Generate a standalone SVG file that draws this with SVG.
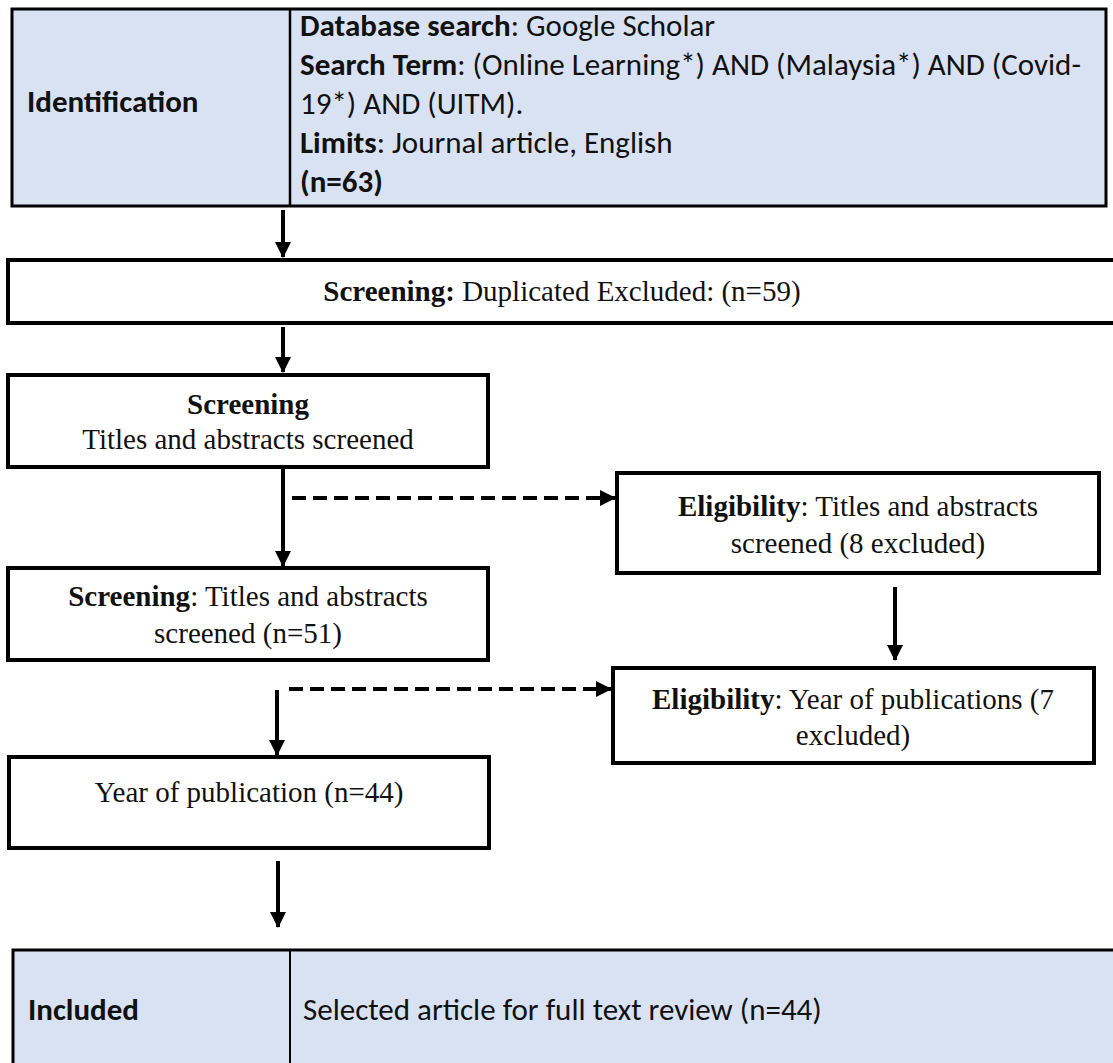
<svg xmlns="http://www.w3.org/2000/svg" width="1113" height="1063" viewBox="0 0 1113 1063">
<style>
.cal{font-family:Carlito,"Liberation Sans",sans-serif;font-size:31px;fill:#111}
.tnr{font-family:"Liberation Serif","Times New Roman",serif;font-size:29px;fill:#111}
.b{font-weight:bold}
.box{fill:#fff;stroke:#000;stroke-width:4}
.tbl{fill:#D9E2F3;stroke:#000;stroke-width:3}
.ln{stroke:#000;stroke-width:4;fill:none}
.dash{stroke:#000;stroke-width:4;fill:none;stroke-dasharray:14 7}
</style>
<defs>
<marker id="ah" markerUnits="userSpaceOnUse" markerWidth="16" markerHeight="18" viewBox="0 0 16 18" refX="15" refY="9" orient="auto">
<path d="M0,1 L16,9 L0,17 Z" fill="#000"/>
</marker>
</defs>

<g id="identification">
<rect class="tbl" x="12" y="9" width="1094" height="197"/>
<line x1="290" y1="9" x2="290" y2="206" stroke="#000" stroke-width="2.5"/>
<text class="cal b" x="27" y="112">Identification</text>
<text class="cal" x="300" y="36"><tspan class="b">Database search</tspan>: Google Scholar</text>
<text class="cal" x="300" y="75"><tspan class="b">Search Term</tspan>: (Online Learning*) AND (Malaysia*) AND (Covid-</text>
<text class="cal" x="300" y="114">19*) AND (UITM).</text>
<text class="cal" x="300" y="153"><tspan class="b">Limits</tspan>: Journal article, English</text>
<text class="cal b" x="300" y="192">(n=63)</text>
</g>

<g id="screening-duplicates">
<rect class="box" x="8" y="260" width="1120" height="63" stroke-width="5"/>
<text class="tnr" x="562" y="301" text-anchor="middle"><tspan class="b">Screening:</tspan> Duplicated Excluded: (n=59)</text>
</g>

<g id="screening-titles">
<rect class="box" x="8" y="375" width="480" height="92"/>
<text class="tnr b" x="248" y="414" text-anchor="middle" font-size="19">Screening</text>
<text class="tnr" x="248" y="449" text-anchor="middle">Titles and abstracts screened</text>
</g>

<g id="screening-n51">
<rect class="box" x="8" y="568" width="480" height="92"/>
<text class="tnr" x="248" y="606" text-anchor="middle"><tspan class="b">Screening</tspan>: Titles and abstracts</text>
<text class="tnr" x="248" y="643" text-anchor="middle">screened (n=51)</text>
</g>

<g id="eligibility-titles">
<rect class="box" x="617" y="473" width="482" height="100"/>
<text class="tnr" x="858" y="516" text-anchor="middle"><tspan class="b">Eligibility</tspan>: Titles and abstracts</text>
<text class="tnr" x="858" y="553" text-anchor="middle">screened (8 excluded)</text>
</g>

<g id="eligibility-year">
<rect class="box" x="613" y="668" width="481" height="95"/>
<text class="tnr" x="853" y="709" text-anchor="middle"><tspan class="b">Eligibility</tspan>: Year of publications (7</text>
<text class="tnr" x="853" y="745" text-anchor="middle">excluded)</text>
</g>

<g id="year-publication">
<rect class="box" x="9" y="757" width="480" height="91"/>
<text class="tnr" x="249" y="802" text-anchor="middle">Year of publication (n=44)</text>
</g>

<g id="included">
<rect class="tbl" x="13" y="950" width="1110" height="130" stroke-width="2.5"/>
<line x1="290" y1="950" x2="290" y2="1063" stroke="#000" stroke-width="2"/>
<text class="cal b" x="28" y="1020">Included</text>
<text class="cal" x="303" y="1020">Selected article for full text review (n=44)</text>
</g>

<g id="connectors">
<line class="ln" x1="283" y1="210" x2="283" y2="257" marker-end="url(#ah)"/>
<line class="ln" x1="283" y1="327" x2="283" y2="372" marker-end="url(#ah)"/>
<line class="ln" x1="283" y1="467" x2="283" y2="566" marker-end="url(#ah)"/>
<line class="dash" x1="292" y1="498" x2="615" y2="498" marker-end="url(#ah)"/>
<line class="ln" x1="895" y1="587" x2="895" y2="660" marker-end="url(#ah)"/>
<line class="dash" x1="289" y1="689" x2="611" y2="689" marker-end="url(#ah)"/>
<line class="ln" x1="277" y1="690" x2="277" y2="755" marker-end="url(#ah)"/>
<line class="ln" x1="278" y1="861" x2="278" y2="927" marker-end="url(#ah)"/>
</g>
</svg>
